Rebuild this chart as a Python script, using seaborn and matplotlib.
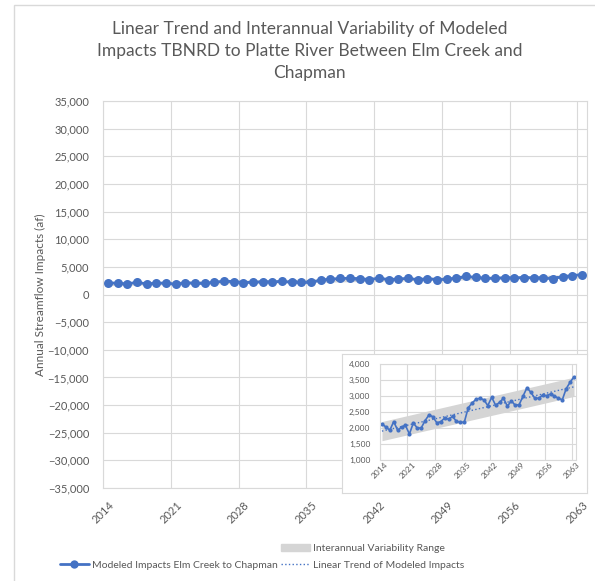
import numpy as np
import pandas as pd
import matplotlib.pyplot as plt
import seaborn as sns
from matplotlib.patches import Patch, Rectangle
from matplotlib.lines import Line2D
from matplotlib.ticker import StrMethodFormatter

years = list(range(2014, 2064))
impacts = [2130, 2030, 1930, 2200, 1930, 2030, 2080, 1810, 2160, 2000,
           2000, 2230, 2410, 2350, 2160, 2200, 2310, 2280, 2360, 2210,
           2180, 2180, 2630, 2780, 2900, 2930, 2880, 2700, 2960, 2710,
           2800, 2930, 2680, 2850, 2710, 2730, 3000, 3260, 3110, 2930,
           2930, 3030, 3010, 3060, 3000, 2930, 2880, 3230, 3430, 3600]
tick_years = [2014, 2021, 2028, 2035, 2042, 2049, 2056, 2063]
band_half_width = 300

sns.set_style('white')
plt.rcParams['font.family'] = ['Lato', 'DejaVu Sans']

blue = '#4472C4'
txt = '#595959'
grid_c = '#D9D9D9'
band_c = '#D5D5D5'

df = pd.DataFrame({'year': years, 'impacts': impacts})
df['pos'] = df['year'] + 0.5  # excel puts each point mid-category
slope, icpt = np.polyfit(df['year'], df['impacts'], 1)
df['trend'] = icpt + slope * df['year']


def draw(a, lw, ms):
    a.fill_between(df['pos'], df['trend'] - band_half_width,
                   df['trend'] + band_half_width, color=band_c, lw=0)
    sns.lineplot(data=df, x='pos', y='impacts', ax=a, color=blue, lw=lw,
                 marker='o', markersize=ms, markeredgewidth=0)
    sns.lineplot(data=df, x='pos', y='trend', ax=a, color=blue, lw=1,
                 linestyle=':')


def style(a, lo, hi, step, fs, xpad, ypad):
    a.set_xlim(2014, 2064)
    a.set_xticks(tick_years)
    a.set_xticklabels(tick_years, rotation=45)
    a.set_ylim(lo, hi)
    a.set_yticks(np.arange(lo, hi + 1, step))
    a.yaxis.set_major_formatter(StrMethodFormatter('{x:,.0f}'))
    a.grid(True, color=grid_c, lw=0.8)
    for s in a.spines.values():
        s.set_color(grid_c)
    a.tick_params(length=0, colors=txt, labelsize=fs)
    a.tick_params(axis='x', pad=xpad)
    a.tick_params(axis='y', pad=ypad)
    a.set_xlabel('')
    a.set_ylabel('')


fig = plt.figure(figsize=(5.95, 5.81), dpi=100)

ax = fig.add_axes([103/595, 1-488/581, 484/595, 387/581])
ax.set_zorder(1)
draw(ax, 2.0, 6.5)
style(ax, -35000, 35000, 5000, 8, 8, 10)

# white box behind the zoomed inset
box = fig.add_axes([342/595, 1-493/581, 245/595, 139/581])
box.set_zorder(2)
box.set_xticks([])
box.set_yticks([])
for s in box.spines.values():
    s.set_color(grid_c)

ins = fig.add_axes([380/595, 1-460/581, 196/595, 96/581])
ins.set_zorder(3)
draw(ins, 1.2, 3)
style(ins, 1000, 4000, 500, 6, 1, 7)

fig.add_artist(Rectangle((14/595, -0.05), 1.0, 1-5/581+0.05,
                         transform=fig.transFigure, fill=False,
                         edgecolor=grid_c, lw=1))

fig.text(0.52, 1-51/581,
         'Linear Trend and Interannual Variability of Modeled\n'
         'Impacts TBNRD to Platte River Between Elm Creek and\nChapman',
         ha='center', va='center', fontsize=12.5, color=txt, linespacing=1.45)
fig.text(40/595, 1-295/581, 'Annual Streamflow Impacts (af)', rotation=90,
         ha='center', va='center', fontsize=8.5, color=txt)

handles = [Line2D([], [], color='none'),
           Line2D([], [], color=blue, lw=2, marker='o', ms=6, mew=0),
           Patch(color=band_c),
           Line2D([], [], color=blue, lw=1, ls=':')]
labels = ['', 'Modeled Impacts Elm Creek to Chapman',
          'Interannual Variability Range', 'Linear Trend of Modeled Impacts']
fig.legend(handles, labels, ncol=2, loc='center',
           bbox_to_anchor=(262/595, 1-557/581), frameon=False, fontsize=7.5,
           handlelength=2.8, columnspacing=0.3, handletextpad=0.3,
           labelcolor=txt, labelspacing=0.7)

fig.savefig('out.png', dpi=100)
